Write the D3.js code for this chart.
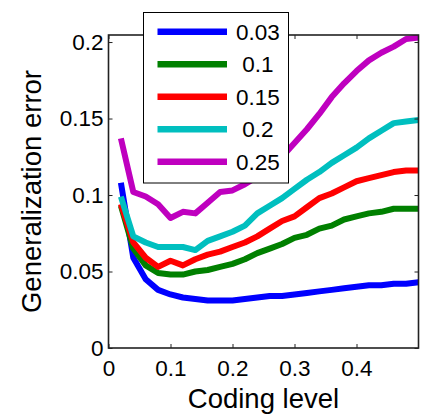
<!DOCTYPE html>
<html><head><meta charset="utf-8">
<script src="https://cdn.jsdelivr.net/npm/d3@7"></script>
<style>body{margin:0;background:#fff}svg{display:block}text{font-family:"Liberation Sans",Arial,sans-serif;fill:#000}</style>
</head><body>
<script>
const codingLevel = [0.02,0.04,0.06,0.08,0.10,0.12,0.14,0.16,0.18,0.20,0.22,0.24,0.26,0.28,0.30,0.32,0.34,0.36,0.38,0.40,0.42,0.44,0.46,0.48,0.50];
const seriesNames = ["0.03","0.1","0.15","0.2","0.25"];
const err003 = [0.108,0.059,0.045,0.038,0.035,0.033,0.032,0.031,0.031,0.031,0.032,0.033,0.034,0.034,0.035,0.036,0.037,0.038,0.039,0.040,0.041,0.041,0.042,0.042,0.043];
const err010 = [0.093,0.065,0.054,0.049,0.048,0.048,0.050,0.051,0.053,0.055,0.058,0.062,0.065,0.068,0.072,0.074,0.078,0.080,0.084,0.086,0.088,0.089,0.091,0.091,0.091];
const err015 = [0.094,0.069,0.059,0.053,0.057,0.054,0.058,0.061,0.063,0.066,0.069,0.073,0.078,0.083,0.086,0.092,0.098,0.101,0.105,0.109,0.111,0.113,0.115,0.116,0.116];
const err020 = [0.099,0.073,0.069,0.066,0.066,0.066,0.064,0.070,0.073,0.076,0.080,0.088,0.093,0.098,0.104,0.110,0.115,0.121,0.126,0.131,0.137,0.142,0.147,0.148,0.149];
const err025 = [0.137,0.102,0.099,0.094,0.085,0.089,0.088,0.095,0.102,0.103,0.107,0.112,0.118,0.125,0.134,0.143,0.153,0.164,0.173,0.181,0.188,0.193,0.197,0.202,0.203];
const colors = ["#0000ff","#008000","#ff0000","#00bfbf","#bf00bf"];
const xTicks = [0,0.1,0.2,0.3,0.4];
const yTicks = [0,0.05,0.1,0.15,0.2];
const xTickLabels = ["0","0.1","0.2","0.3","0.4"];
const yTickLabels = ["0","0.05","0.1","0.15","0.2"];

const allSeries = [err003,err010,err015,err020,err025];
const W=424,H=416;
const L=108.5,R=418.5,T=35,B=348;
const svg=d3.select("body").append("svg").attr("width",W).attr("height",H);
const x=d3.scaleLinear().domain([0,0.5]).range([L,R]);
const y=d3.scaleLinear().domain([0,0.2046]).range([B,T]);

svg.append("defs").append("clipPath").attr("id","clip")
  .append("rect").attr("x",L).attr("y",T).attr("width",R-L).attr("height",B-T);

const line=d3.line().x((d,i)=>x(codingLevel[i])).y(d=>y(d));
const g=svg.append("g").attr("clip-path","url(#clip)");
allSeries.forEach((s,k)=>{
  g.append("path").attr("d",line(s)).attr("fill","none")
   .attr("stroke",colors[k]).attr("stroke-width",6).attr("stroke-linejoin","round");
});

// frame
svg.append("rect").attr("x",L).attr("y",T).attr("width",R-L).attr("height",B-T)
  .attr("fill","none").attr("stroke","#222").attr("stroke-width",1.6);

// axes with inward ticks
const tl=4;
const ax=svg.append("g").attr("transform",`translate(0,${B})`)
  .call(d3.axisBottom(x).tickValues(xTicks).tickSizeInner(-tl).tickSizeOuter(0).tickFormat((d,i)=>xTickLabels[i]));
const axT=svg.append("g").attr("transform",`translate(0,${T})`)
  .call(d3.axisTop(x).tickValues(xTicks).tickSizeInner(-tl).tickSizeOuter(0).tickFormat(""));
const ay=svg.append("g").attr("transform",`translate(${L},0)`)
  .call(d3.axisLeft(y).tickValues(yTicks).tickSizeInner(-tl).tickSizeOuter(0).tickFormat((d,i)=>yTickLabels[i]));
const ayR=svg.append("g").attr("transform",`translate(${R},0)`)
  .call(d3.axisRight(y).tickValues(yTicks).tickSizeInner(-tl).tickSizeOuter(0).tickFormat(""));
[ax,axT,ay,ayR].forEach(a=>{
  a.select(".domain").remove();
  a.selectAll(".tick line").attr("stroke","#222").attr("stroke-width",1);
  a.selectAll("text").style("font-size","22.5px").attr("fill","#000");
});
ax.selectAll(".tick text").attr("dy","0.71em").attr("y",12);
ay.selectAll(".tick text").attr("x",-5);

// axis labels
svg.append("text").attr("x",(L+R)/2).attr("y",408).attr("text-anchor","middle")
  .style("font-size","27.5px").text("Coding level");
svg.append("text").attr("transform",`translate(41,${(T+B)/2}) rotate(-90)`).attr("text-anchor","middle")
  .style("font-size","27.5px").text("Generalization error");

// legend
const lg=svg.append("g");
lg.append("rect").attr("x",143.5).attr("y",12.5).attr("width",145).attr("height",170.5)
  .attr("fill","#fff").attr("stroke","#000").attr("stroke-width",1);
seriesNames.forEach((n,k)=>{
  const yy=31.7+k*32.5;
  lg.append("line").attr("x1",157.5).attr("x2",227).attr("y1",yy).attr("y2",yy)
    .attr("stroke",colors[k]).attr("stroke-width",6.5);
  lg.append("text").attr("x",258).attr("y",yy).attr("dy","0.36em").attr("text-anchor","middle")
    .style("font-size","22.5px").text(n);
});
</script>
</body></html>
